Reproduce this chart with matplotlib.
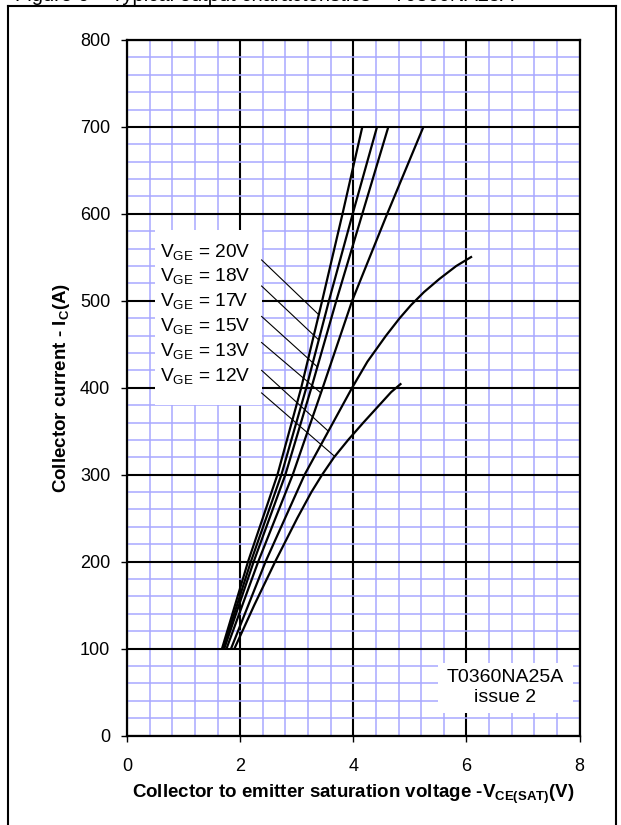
import matplotlib
matplotlib.use('Agg')
import numpy as np
import matplotlib.pyplot as plt
from matplotlib.ticker import MultipleLocator
from matplotlib.lines import Line2D
from matplotlib.patches import Rectangle

plt.rcParams['font.family'] = ['Liberation Sans', 'DejaVu Sans']
plt.rcParams['mathtext.fontset'] = 'custom'
plt.rcParams['mathtext.rm'] = 'Liberation Sans'
plt.rcParams['mathtext.bf'] = 'Liberation Sans:bold'
plt.rcParams['mathtext.it'] = 'Liberation Sans:italic'

# ---- data (V_CE(sat) in V, I_C in A) ----
vge_labels = ['20V', '18V', '17V', '15V', '13V', '12V']

i_20 = [100, 200, 300, 400, 500, 600, 700]
v_20 = [1.68, 2.14, 2.66, 3.08, 3.45, 3.81, 4.16]

i_18 = [100, 200, 300, 400, 500, 600, 700]
v_18 = [1.70, 2.19, 2.73, 3.17, 3.57, 3.99, 4.42]

i_17 = [100, 200, 300, 400, 500, 600, 700]
v_17 = [1.72, 2.24, 2.80, 3.26, 3.70, 4.16, 4.62]

i_15 = [100, 200, 300, 400, 500, 600, 700]
v_15 = [1.76, 2.32, 2.93, 3.46, 3.98, 4.60, 5.24]

i_13 = [100, 200, 300, 350, 400, 430, 460, 480, 495, 510, 525, 540, 551]
v_13 = [1.84, 2.45, 3.14, 3.56, 3.98, 4.25, 4.58, 4.82, 5.02, 5.25, 5.52, 5.82, 6.10]

i_12 = [100, 150, 200, 250, 280, 300, 320, 340, 360, 380, 395, 405]
v_12 = [1.90, 2.25, 2.62, 3.01, 3.26, 3.45, 3.66, 3.91, 4.18, 4.46, 4.67, 4.85]

curves = [(v_20, i_20), (v_18, i_18), (v_17, i_17),
          (v_15, i_15), (v_13, i_13), (v_12, i_12)]

# leader lines: current where each leader starts (at label box) and meets its curve
leader_start_i = [547, 517, 482, 452, 420, 394]
leader_end_i = [484, 455, 424, 394, 350, 321]

note_text = 'T0360NA25A\nissue 2'
title_text = 'Figure 6 \u2013 Typical output characteristics \u2013 T0360NA25A'

xticks = [0, 2, 4, 6, 8]
yticks = [0, 100, 200, 300, 400, 500, 600, 700, 800]

# ---- figure ----
W, H = 621, 825
fig = plt.figure(figsize=(W / 100, H / 100), dpi=100)
ax = fig.add_axes([127 / W, 1 - 735.5 / H, (579.5 - 127) / W, (735.5 - 40) / H])

ax.set_xlim(0, 8)
ax.set_ylim(0, 800)
ax.xaxis.set_major_locator(MultipleLocator(2))
ax.xaxis.set_minor_locator(MultipleLocator(0.4))
ax.yaxis.set_major_locator(MultipleLocator(100))
ax.yaxis.set_minor_locator(MultipleLocator(20))
ax.set_xticks(xticks)
ax.set_yticks(yticks)

ax.grid(which='minor', color='#a8a8ff', linewidth=1.1, zorder=0)
ax.grid(which='major', color='black', linewidth=1.5, zorder=1)
ax.set_axisbelow(True)

for s in ax.spines.values():
    s.set_linewidth(1.6)
    s.set_color('black')

ax.tick_params(which='major', direction='out', length=4, width=1,
               labelsize=13, color='black')
ax.tick_params(axis='x', which='major', pad=12)
ax.tick_params(axis='y', which='major', pad=8)
ax.tick_params(which='minor', length=0)

# curves
for v, i in curves:
    ax.plot(v, i, color='black', linewidth=1.6, zorder=3,
            solid_capstyle='butt', solid_joinstyle='round')

# legend label box
ax.add_patch(Rectangle((0.495, 380), 2.38 - 0.495, 581 - 380,
                       facecolor='white', edgecolor='none', zorder=2))
label_i0, label_step = 556.5, 28.5
for k, lab in enumerate(vge_labels):
    ax.text(0.58, label_i0 - k * label_step, r'$\mathregular{V_{GE}}$ = ' + lab,
            fontsize=13.8, va='center', ha='left', zorder=4)

# leader lines
for (v, i), i_s, i_e in zip(curves, leader_start_i, leader_end_i):
    v_e = np.interp(i_e, i, v)
    ax.plot([2.38, v_e], [i_s, i_e], color='black', linewidth=0.8, zorder=4)

# issue box
ax.add_patch(Rectangle((5.5, 26), 7.89 - 5.5, 83 - 26,
                       facecolor='white', edgecolor='none', zorder=2))
ax.text(6.68, 55, note_text, fontsize=14, ha='center', va='center',
        linespacing=1.2, zorder=4)

ax.set_xlabel(r'Collector to emitter saturation voltage -$\mathbf{V_{CE(SAT)}}$(V)',
              fontsize=13.5, fontweight='bold', labelpad=6)
ax.set_ylabel(r'Collector current - $\mathbf{I_C}$(A)',
              fontsize=13.5, fontweight='bold', labelpad=6)

# outer frame
lw_frame = 1.5
fx0, fx1, fy1 = 8 / W, 616 / W, 1 - 6 / H
fig.add_artist(Line2D([fx0, fx0], [0, fy1], transform=fig.transFigure, color='black', lw=lw_frame))
fig.add_artist(Line2D([fx1, fx1], [0, fy1], transform=fig.transFigure, color='black', lw=lw_frame))
fig.add_artist(Line2D([fx0, fx1], [fy1, fy1], transform=fig.transFigure, color='black', lw=lw_frame))

# title, cut off at the top edge as in the reference
fig.text(15 / W, 1 - 1.2 / H, title_text, fontsize=14.5, ha='left', va='baseline')

fig.savefig('out.png', dpi=100)
